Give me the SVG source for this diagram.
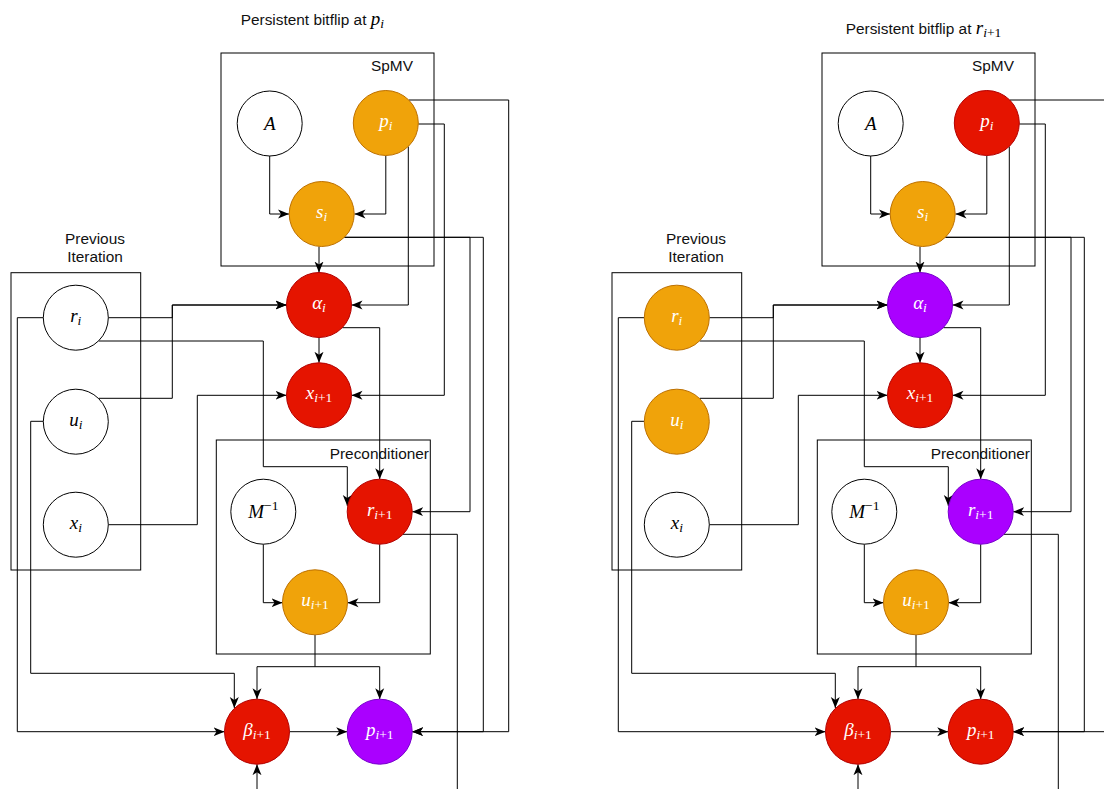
<svg xmlns="http://www.w3.org/2000/svg" width="1104" height="789" viewBox="0 0 1104 789">
<defs>
<marker id="arr" markerUnits="userSpaceOnUse" markerWidth="12" markerHeight="10" viewBox="0 0 12 10" refX="11" refY="5" orient="auto"><path d="M0,0.5 L11,5 L0,9.5 L3,5 Z" fill="#000"/></marker>
<style>
.ln{fill:none;stroke:#000;stroke-width:1}
.a{marker-end:url(#arr)}
.box{fill:none;stroke:#000;stroke-width:1}
.nw{fill:#fff;stroke:#000;stroke-width:1}
.no{fill:#F0A30A;stroke:#BD7000;stroke-width:1}
.nr{fill:#E51400;stroke:#B20000;stroke-width:1}
.np{fill:#AA00FF;stroke:#7700CC;stroke-width:1}
.lbl{font-family:"Liberation Sans",Arial,sans-serif;font-size:15.4px;fill:#111}
.m{font-family:"Liberation Serif","DejaVu Serif",serif;font-style:italic;font-size:19px;text-anchor:middle}
.t{font-family:"Liberation Serif","DejaVu Serif",serif;font-style:italic;font-size:19px;fill:#000}
.w{fill:#fff}
.b{fill:#000}
.s{font-size:13.5px}
.u{font-style:normal}
</style>
</defs>
<rect width="1104" height="789" fill="#fff"/>

<!-- ============ LEFT PANEL ============ -->
<g id="L-title"><text class="lbl" x="240.7" y="25.3">Persistent bitflip at <tspan class="t">p</tspan><tspan class="t s" dy="3">i</tspan></text></g>
<g id="L-spmv-box"><rect class="box" x="221" y="53" width="213" height="213"/><text class="lbl" x="371" y="70.7">SpMV</text></g>
<g id="L-prev-box"><rect class="box" x="11" y="272.7" width="129.7" height="297.3"/><text class="lbl" x="95" y="243.5" text-anchor="middle">Previous</text><text class="lbl" x="95" y="261.5" text-anchor="middle">Iteration</text></g>
<g id="L-prec-box"><rect class="box" x="216.3" y="440" width="214" height="214"/><text class="lbl" x="329.7" y="459">Preconditioner</text></g>

<g id="L-connectors">
<path class="ln a" d="M269.7,156 V214 H289"/>
<path class="ln a" d="M385.8,155.5 V214 H354.5"/>
<path class="ln a" d="M319,246.5 V272.5"/>
<path class="ln a" d="M408.3,146.5 V305 H351.5"/>
<path class="ln a" d="M418.3,124 H444.3 V395.3 H351.5"/>
<path class="ln a" d="M344.4,237.3 H470 V511.7 H412.2"/>
<path class="ln a" d="M344.4,237.3 H483.3 V731.7 H412.2"/>
<path class="ln a" d="M408.8,100 H508.7 V731.7 H412.2"/>
<path class="ln a" d="M108.3,317.7 H172.3 V305 H286.5"/>
<path class="ln a" d="M98.6,398.3 H172.3 V305 H286.5"/>
<path class="ln a" d="M98.7,341 H263.3 V466.7 H347.3 V506"/>
<path class="ln a" d="M108.3,524.7 H197.3 V395.3 H286.5"/>
<path class="ln a" d="M319,337.5 V362.8"/>
<path class="ln a" d="M342.3,327.7 H379.7 V479.2"/>
<path class="ln a" d="M43.3,317.7 H17.3 V731.7 H224.5"/>
<path class="ln a" d="M43.3,421.3 H30.7 V673.3 H234.3 V708"/>
<path class="ln a" d="M263.3,544.2 V602.7 H282.5"/>
<path class="ln a" d="M379.7,544.2 V602.7 H347.5"/>
<path class="ln" d="M403,534.3 H457.3 V789"/>
<path class="ln a" d="M315,634.8 V666.7 H257 V699.2"/>
<path class="ln a" d="M315,666.7 H379.7 V699.2"/>
<path class="ln a" d="M289.5,731.7 H347.2"/>
<path class="ln a" d="M257,789 V764.2"/>
</g>

<g id="L-A"><circle class="nw" cx="269.7" cy="123.5" r="32.5"/><text class="m b" x="269.7" y="129.5">A</text></g>
<g id="L-p_i"><circle class="no" cx="385.8" cy="123" r="32.5"/><text class="m w" x="385.8" y="127">p<tspan class="s" dy="3">i</tspan></text></g>
<g id="L-s_i"><circle class="no" cx="321.7" cy="214" r="32.5"/><text class="m w" x="321.7" y="218">s<tspan class="s" dy="3">i</tspan></text></g>
<g id="L-alpha_i"><circle class="nr" cx="319" cy="305" r="32.5"/><text class="m w" x="319" y="309">α<tspan class="s" dy="3">i</tspan></text></g>
<g id="L-x_i1"><circle class="nr" cx="319" cy="395.3" r="32.5"/><text class="m w" x="319" y="399.3">x<tspan class="s" dy="3">i</tspan><tspan class="s u">+1</tspan></text></g>
<g id="L-r_i"><circle class="nw" cx="75.8" cy="317.7" r="32.5"/><text class="m b" x="75.8" y="321.7">r<tspan class="s" dy="3">i</tspan></text></g>
<g id="L-u_i"><circle class="nw" cx="75.8" cy="421.7" r="32.5"/><text class="m b" x="75.8" y="425.7">u<tspan class="s" dy="3">i</tspan></text></g>
<g id="L-x_i"><circle class="nw" cx="75.8" cy="524.7" r="32.5"/><text class="m b" x="75.8" y="528.7">x<tspan class="s" dy="3">i</tspan></text></g>
<g id="L-Minv"><circle class="nw" cx="263.3" cy="511.7" r="32.5"/><text class="m b" x="263.3" y="518">M<tspan class="s u" dy="-8">−1</tspan></text></g>
<g id="L-r_i1"><circle class="nr" cx="379.7" cy="511.7" r="32.5"/><text class="m w" x="379.7" y="515.7">r<tspan class="s" dy="3">i</tspan><tspan class="s u">+1</tspan></text></g>
<g id="L-u_i1"><circle class="no" cx="315" cy="602.3" r="32.5"/><text class="m w" x="315" y="606.3">u<tspan class="s" dy="3">i</tspan><tspan class="s u">+1</tspan></text></g>
<g id="L-beta_i1"><circle class="nr" cx="257" cy="731.7" r="32.5"/><text class="m w" x="257" y="735.7">β<tspan class="s" dy="3">i</tspan><tspan class="s u">+1</tspan></text></g>
<g id="L-p_i1"><circle class="np" cx="379.7" cy="731.7" r="32.5"/><text class="m w" x="379.7" y="735.7">p<tspan class="s" dy="3">i</tspan><tspan class="s u">+1</tspan></text></g>

<!-- ============ RIGHT PANEL ============ -->
<g id="R-title"><text class="lbl" x="845.7" y="34">Persistent bitflip at <tspan class="t">r</tspan><tspan class="t s" dy="3">i</tspan><tspan class="t s u">+1</tspan></text></g>
<g id="R-spmv-box"><rect class="box" x="822" y="53" width="213" height="213"/><text class="lbl" x="972" y="70.7">SpMV</text></g>
<g id="R-prev-box"><rect class="box" x="612" y="272.7" width="129.7" height="297.3"/><text class="lbl" x="696" y="243.5" text-anchor="middle">Previous</text><text class="lbl" x="696" y="261.5" text-anchor="middle">Iteration</text></g>
<g id="R-prec-box"><rect class="box" x="817.3" y="440" width="214" height="214"/><text class="lbl" x="930.7" y="459">Preconditioner</text></g>

<g id="R-connectors">
<path class="ln a" d="M870.7,156 V214 H890"/>
<path class="ln a" d="M986.8,155.5 V214 H955.5"/>
<path class="ln a" d="M920,246.5 V272.5"/>
<path class="ln a" d="M1009.3,146.5 V305 H952.5"/>
<path class="ln a" d="M1019.3,124 H1045.3 V395.3 H952.5"/>
<path class="ln a" d="M945.4,237.3 H1071 V511.7 H1013.2"/>
<path class="ln a" d="M945.4,237.3 H1084.3 V731.7 H1013.2"/>
<path class="ln a" d="M1009.8,100 H1109.7 V731.7 H1013.2"/>
<path class="ln a" d="M709.3,317.7 H773.3 V305 H887.5"/>
<path class="ln a" d="M699.6,398.3 H773.3 V305 H887.5"/>
<path class="ln a" d="M699.7,341 H864.3 V466.7 H948.3 V506"/>
<path class="ln a" d="M709.3,524.7 H798.3 V395.3 H887.5"/>
<path class="ln a" d="M920,337.5 V362.8"/>
<path class="ln a" d="M943.3,327.7 H980.7 V479.2"/>
<path class="ln a" d="M644.3,317.7 H618.3 V731.7 H825.5"/>
<path class="ln a" d="M644.3,421.3 H631.7 V673.3 H835.3 V708"/>
<path class="ln a" d="M864.3,544.2 V602.7 H883.5"/>
<path class="ln a" d="M980.7,544.2 V602.7 H948.5"/>
<path class="ln" d="M1004,534.3 H1058.3 V789"/>
<path class="ln a" d="M916,634.8 V666.7 H858 V699.2"/>
<path class="ln a" d="M916,666.7 H980.7 V699.2"/>
<path class="ln a" d="M890.5,731.7 H948.2"/>
<path class="ln a" d="M858,789 V764.2"/>
</g>

<g id="R-A"><circle class="nw" cx="870.7" cy="123.5" r="32.5"/><text class="m b" x="870.7" y="129.5">A</text></g>
<g id="R-p_i"><circle class="nr" cx="986.8" cy="123" r="32.5"/><text class="m w" x="986.8" y="127">p<tspan class="s" dy="3">i</tspan></text></g>
<g id="R-s_i"><circle class="no" cx="922.7" cy="214" r="32.5"/><text class="m w" x="922.7" y="218">s<tspan class="s" dy="3">i</tspan></text></g>
<g id="R-alpha_i"><circle class="np" cx="920" cy="305" r="32.5"/><text class="m w" x="920" y="309">α<tspan class="s" dy="3">i</tspan></text></g>
<g id="R-x_i1"><circle class="nr" cx="920" cy="395.3" r="32.5"/><text class="m w" x="920" y="399.3">x<tspan class="s" dy="3">i</tspan><tspan class="s u">+1</tspan></text></g>
<g id="R-r_i"><circle class="no" cx="676.8" cy="317.7" r="32.5"/><text class="m w" x="676.8" y="321.7">r<tspan class="s" dy="3">i</tspan></text></g>
<g id="R-u_i"><circle class="no" cx="676.8" cy="421.7" r="32.5"/><text class="m w" x="676.8" y="425.7">u<tspan class="s" dy="3">i</tspan></text></g>
<g id="R-x_i"><circle class="nw" cx="676.8" cy="524.7" r="32.5"/><text class="m b" x="676.8" y="528.7">x<tspan class="s" dy="3">i</tspan></text></g>
<g id="R-Minv"><circle class="nw" cx="864.3" cy="511.7" r="32.5"/><text class="m b" x="864.3" y="518">M<tspan class="s u" dy="-8">−1</tspan></text></g>
<g id="R-r_i1"><circle class="np" cx="980.7" cy="511.7" r="32.5"/><text class="m w" x="980.7" y="515.7">r<tspan class="s" dy="3">i</tspan><tspan class="s u">+1</tspan></text></g>
<g id="R-u_i1"><circle class="no" cx="916" cy="602.3" r="32.5"/><text class="m w" x="916" y="606.3">u<tspan class="s" dy="3">i</tspan><tspan class="s u">+1</tspan></text></g>
<g id="R-beta_i1"><circle class="nr" cx="858" cy="731.7" r="32.5"/><text class="m w" x="858" y="735.7">β<tspan class="s" dy="3">i</tspan><tspan class="s u">+1</tspan></text></g>
<g id="R-p_i1"><circle class="nr" cx="980.7" cy="731.7" r="32.5"/><text class="m w" x="980.7" y="735.7">p<tspan class="s" dy="3">i</tspan><tspan class="s u">+1</tspan></text></g>
</svg>
